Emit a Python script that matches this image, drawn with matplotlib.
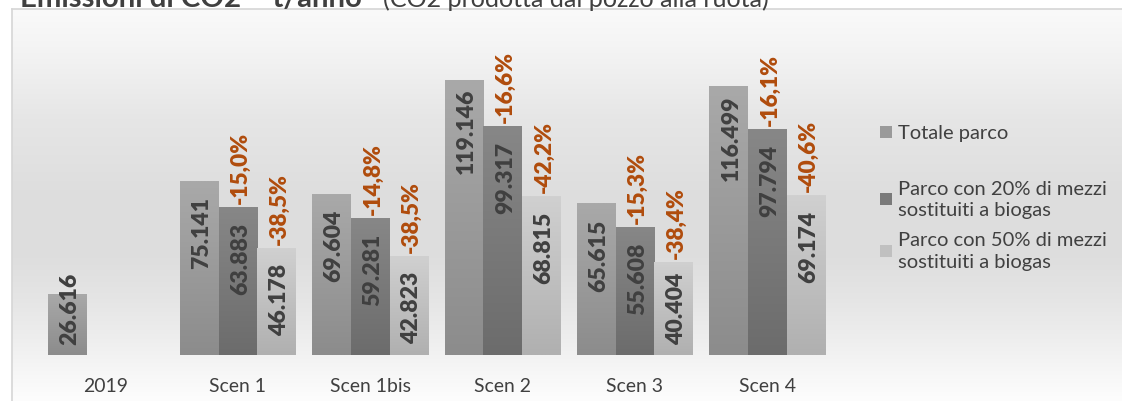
import numpy as np
import matplotlib
matplotlib.use("Agg")
import matplotlib.pyplot as plt
from matplotlib import font_manager
from matplotlib.colors import LinearSegmentedColormap
from matplotlib.patches import Rectangle

# ---- data ----
categories = ["2019", "Scen 1", "Scen 1bis", "Scen 2", "Scen 3", "Scen 4"]
totale_parco = [26616, 75141, 69604, 119146, 65615, 116499]
parco_20 = [np.nan, 63883, 59281, 99317, 55608, 97794]
parco_50 = [np.nan, 46178, 42823, 68815, 40404, 69174]
series_labels = ["Totale parco",
                 "Parco con 20% di mezzi\nsostituiti a biogas",
                 "Parco con 50% di mezzi\nsostituiti a biogas"]
title_main = "Emissioni di CO2 \u2013 t/anno"
title_sub = "(CO2 prodotta dal pozzo alla ruota)"

series = [totale_parco, parco_20, parco_50]
grad_colors = [("#a9a9a9", "#8c8c8c"), ("#878787", "#6c6c6c"), ("#d0d0d0", "#b0b0b0")]
legend_colors = ["#9a9a9a", "#7a7a7a", "#c0c0c0"]
pct_color = "#B04C0C"
txt_color = "#404040"

REG = ['Lato', 'DejaVu Sans']
BOLD = ['Lato', 'DejaVu Sans']
LBL_W = 'heavy'
plt.rcParams['font.family'] = REG

W, H = 1122, 402
fig = plt.figure(figsize=(W / 100, H / 100), dpi=100)
renderer = fig.canvas.get_renderer()

def fit_size(s, target_px, family, weight='normal', base=20.0):
    t = fig.text(0, 0, s, fontsize=base, family=family, fontweight=weight)
    w = t.get_window_extent(renderer).width
    t.remove()
    return base * target_px / w

# background chart area with vertical gradient
bg = fig.add_axes([12 / W, 0, 1 - 12 / W, 392 / H], zorder=0)
ys = np.array([0, 50, 110, 190, 250, 290, 330, 370, 392])  # from top
gv = np.array([250, 242, 230, 221, 222, 229, 238, 248, 253]) / 255.0
yy = np.linspace(0, 392, 400)
g = np.interp(yy, ys, gv)
g2 = np.tile(g[:, None], (1, 2))
img = np.dstack([g2, g2, g2])
bg.imshow(img, aspect='auto', extent=[0, 1, 0, 1], interpolation='bilinear')
bg.set_xlim(0, 1); bg.set_ylim(0, 1)
bg.set_xticks([]); bg.set_yticks([])
for s in ['right', 'bottom']:
    bg.spines[s].set_visible(False)
for s in ['left', 'top']:
    bg.spines[s].set_color('#d6d6d6')
    bg.spines[s].set_linewidth(1.2)

# title (its top is cut by the image edge in the reference)
fs_t1 = fit_size(title_main, 343, BOLD, 'bold')
fs_t2 = fit_size(title_sub, 387, REG)
fig.text(20 / W, (H - 7) / H, title_main, fontsize=fs_t1, family=BOLD, fontweight='bold',
         color=txt_color, va='baseline', ha='left')
fig.text(383 / W, (H - 7) / H, title_sub, fontsize=fs_t2, family=REG,
         color=txt_color, va='baseline', ha='left')

# main axes
x0px, x1px = 39.5, 833.5
base_px, top_px = 356, 40
ax = fig.add_axes([x0px / W, (H - base_px) / H, (x1px - x0px) / W, (base_px - top_px) / H], zorder=2)
ax.set_facecolor('none')
ppu = 2.31 / 1000  # pixels per data unit
ymax = (base_px - top_px) / ppu

x = np.arange(len(categories))
bw = 0.293
offsets = [-bw, 0, bw]

def fmt_it(v):
    return f"{int(round(v)):,}".replace(",", ".")

fs_val = fit_size("75.141", 72, BOLD, LBL_W)
fs_pct = fit_size("-15,0%", 72, BOLD, LBL_W)
dx = 0.02
for si, (vals, off) in enumerate(zip(series, offsets)):
    vals = np.array(vals, dtype=float)
    bars = ax.bar(x + off, np.nan_to_num(vals), width=bw, color=legend_colors[si], zorder=2, linewidth=0)
    cmap = LinearSegmentedColormap.from_list(f"c{si}", [grad_colors[si][1], grad_colors[si][0]])
    for b, v in zip(bars, vals):
        if np.isnan(v):
            b.set_visible(False)
            continue
        bx, bwid, bh = b.get_x(), b.get_width(), b.get_height()
        grad = np.linspace(0, 1, 100)[:, None]
        im = ax.imshow(grad, extent=[bx, bx + bwid, 0, bh], origin='lower', aspect='auto',
                       cmap=cmap, zorder=2.5, interpolation='bilinear')
        im.set_clip_path(b)
    # value labels inside bars
    L = 72 / ppu
    gap = 15 / ppu
    margin = 11 / ppu
    for xi, v in zip(x + off, vals):
        if np.isnan(v):
            continue
        yc = max(v - gap - L / 2, margin + L / 2)
        ax.text(xi + dx, yc, fmt_it(v), rotation=90, ha='center', va='center', family=BOLD,
                fontsize=fs_val, fontweight=LBL_W, color=txt_color, zorder=4)
    # percentage labels above bars
    if si > 0:
        for xi, v, v0 in zip(x + off, vals, totale_parco):
            if np.isnan(v):
                continue
            pct = (v / v0 - 1) * 100
            s = f"{pct:.1f}".replace(".", ",") + "%"
            ax.text(xi + dx, v + 4 / ppu, s, rotation=90, ha='center', va='bottom', family=BOLD,
                    fontsize=fs_pct, fontweight=LBL_W, color=pct_color, zorder=4)

fs_cat = fit_size("Scen 2", 57, REG)
ax.set_xlim(-0.5, len(categories) - 0.5)
ax.set_ylim(0, ymax)
ax.set_xticks(x)
ax.set_xticklabels(categories, fontsize=fs_cat, color=txt_color)
ax.tick_params(axis='x', length=0, pad=16)
ax.set_yticks([])
for s in ax.spines.values():
    s.set_visible(False)

# legend (manual, to match Excel's spacing)
fs_leg = fit_size("Parco con 20% di mezzi", 209, REG)
leg_y = [133, 200, 251.5]
for si in range(3):
    yc = (H - leg_y[si]) / H
    fig.patches.append(Rectangle((880 / W, yc - 6 / H), 12 / W, 12 / H, transform=fig.transFigure,
                                 facecolor=legend_colors[si], edgecolor='none', zorder=3))
    fig.text(898 / W, yc, series_labels[si], fontsize=fs_leg, color=txt_color, va='center', ha='left',
             linespacing=1.3)

fig.savefig("out.png", dpi=100)
